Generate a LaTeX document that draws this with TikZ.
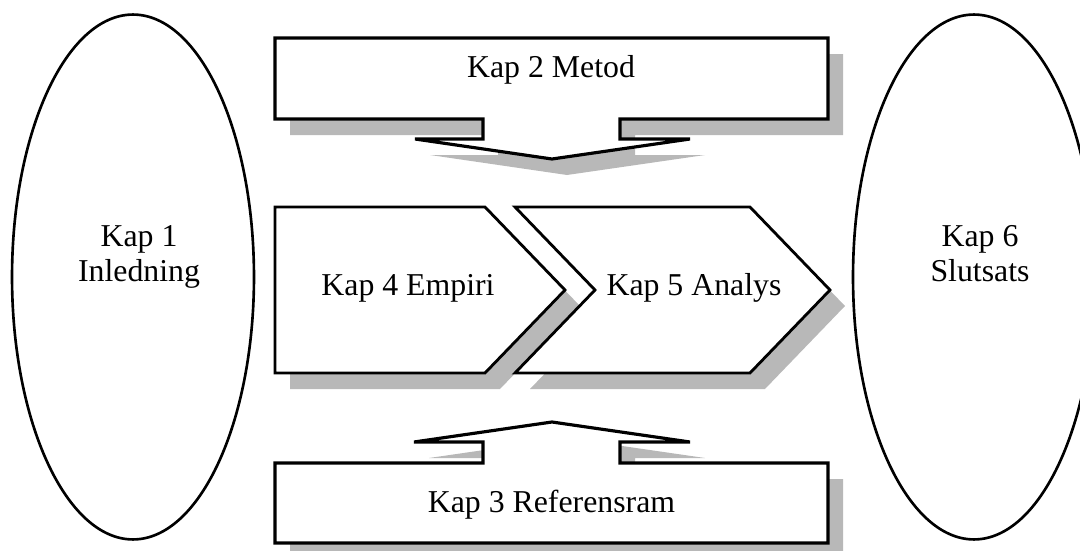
\documentclass[tikz,border=0pt]{standalone}
\usepackage{fontspec}
\setmainfont{Liberation Serif}
\usetikzlibrary{shapes.geometric}
\definecolor{shadowgray}{RGB}{184,184,184}
\begin{document}
\begin{tikzpicture}[x=0.02cm,y=-0.02cm,
  boxline/.style={draw=black, fill=white, line width=1.8pt, line join=miter},
  chevline/.style={draw=black, fill=white, line width=1.6pt, line join=miter},
  shadowfill/.style={fill=shadowgray, draw=none, shift={(15,16)}},
  ovalnode/.style={ellipse, draw=black, line width=1.5pt, fill=white, inner sep=0pt,
    minimum width=4.84cm, minimum height=10.5cm},
  lbl/.style={font=\fontsize{18.1}{19.9}\selectfont, inner sep=0pt},
  ovallbl/.style={font=\fontsize{18.1}{19.9}\selectfont, inner sep=0pt, align=center}]
\useasboundingbox (0,0) rectangle (1080,551);
\clip (0,0) rectangle (1080,551);

% shadows
\fill[shadowfill] (275,38) -- (828,38) -- (828,119) -- (620,119) -- (620,139) -- (690,139) -- (552,159) -- (415,139) -- (483,139) -- (483,119) -- (275,119) -- cycle;
\fill[shadowfill] (275,543) -- (275,463) -- (483,463) -- (483,442) -- (414,442) -- (552,422) -- (690,442) -- (620,442) -- (620,463) -- (828,463) -- (828,543) -- cycle;
\fill[shadowfill] (275,207) -- (485,207) -- (565,290) -- (485,373) -- (275,373) -- cycle;
\fill[shadowfill] (515,207) -- (750,207) -- (830,290) -- (750,373) -- (515,373) -- (595,290) -- cycle;

% ellipses
\node[ovalnode] (kap1) at (133,277) {};
\node[ovalnode] (kap6) at (974,277) {};
\node[ovallbl] (kap1t) at (139,257) {Kap 1\\Inledning};
\node[ovallbl] (kap6t) at (980,254) {Kap 6\\Slutsats};

% top box with down arrow
\draw[boxline] (275,38) -- (828,38) -- (828,119) -- (620,119) -- (620,139) -- (690,139) -- (552,159) -- (415,139) -- (483,139) -- (483,119) -- (275,119) -- cycle;
\node[lbl, anchor=base] (kap2) at (551,77) {Kap 2 Metod};

% bottom box with up arrow
\draw[boxline] (275,543) -- (275,463) -- (483,463) -- (483,442) -- (414,442) -- (552,422) -- (690,442) -- (620,442) -- (620,463) -- (828,463) -- (828,543) -- cycle;
\node[lbl, anchor=base] (kap3) at (551.5,512) {Kap 3 Referensram};

% chevrons
\draw[chevline] (275,207) -- (485,207) -- (565,290) -- (485,373) -- (275,373) -- cycle;
\node[lbl, anchor=base] (kap4) at (408,295) {Kap 4 Empiri};
\draw[chevline] (515,207) -- (750,207) -- (830,290) -- (750,373) -- (515,373) -- (595,290) -- cycle;
\node[lbl, anchor=base] (kap5) at (694,295) {Kap 5 Analys};
\end{tikzpicture}
\end{document}
